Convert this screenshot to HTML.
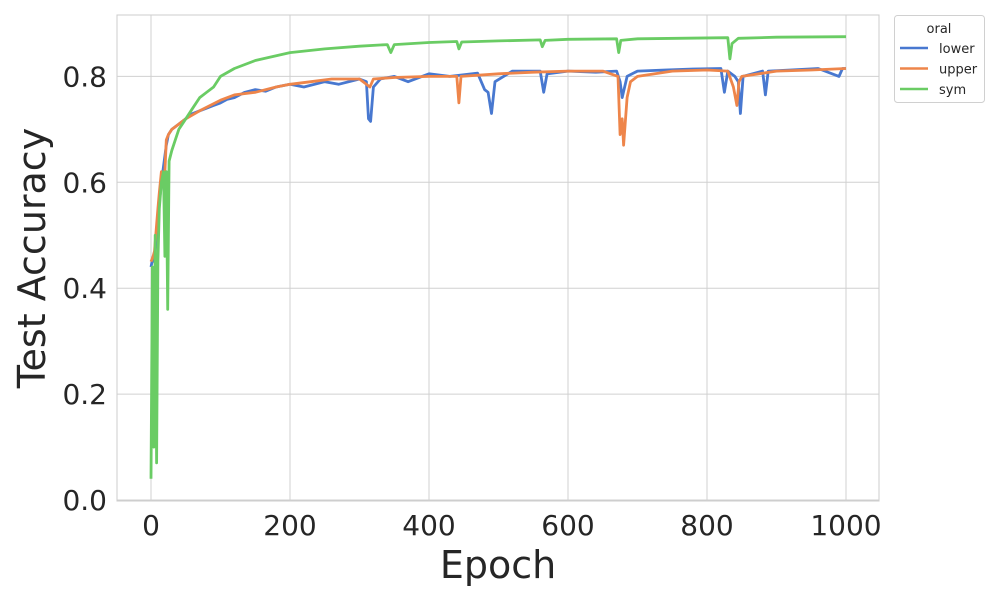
<!DOCTYPE html>
<html><head><meta charset="utf-8"><style>
body{margin:0;background:#fff;font-family:"Liberation Sans","DejaVu Sans",sans-serif}
svg text{font-family:"DejaVu Sans","Liberation Sans",sans-serif;fill:#262626}
</style></head><body>
<svg id="chart" width="1000" height="600" xmlns="http://www.w3.org/2000/svg"></svg>
<script>
const xTicks=[0,200,400,600,800,1000];
const yTicks=[0.0,0.2,0.4,0.6,0.8];
const seriesNames=["lower","upper","sym"];
const lowerEpochs=[0,3,5,8,10,12,15,18,20,22,25,30,40,50,60,70,80,90,100,110,120,135,150,165,180,200,220,250,270,300,310,313,316,320,330,350,370,400,430,470,480,485,490,495,520,560,565,570,600,640,670,675,678,685,700,740,780,820,825,830,840,845,848,852,880,884,888,920,960,990,995,1000];
const lowerVals=[0.44,0.46,0.45,0.5,0.52,0.56,0.6,0.63,0.65,0.67,0.69,0.7,0.71,0.72,0.73,0.735,0.74,0.745,0.75,0.757,0.76,0.77,0.775,0.772,0.78,0.785,0.78,0.79,0.785,0.795,0.79,0.72,0.715,0.78,0.795,0.8,0.79,0.805,0.8,0.806,0.775,0.77,0.73,0.79,0.81,0.81,0.77,0.805,0.81,0.808,0.81,0.79,0.76,0.8,0.81,0.812,0.814,0.815,0.77,0.81,0.8,0.79,0.73,0.8,0.81,0.765,0.81,0.812,0.815,0.8,0.815,0.815];
const upperEpochs=[0,3,5,8,10,12,15,18,20,22,25,30,40,50,70,100,120,150,180,200,230,260,300,310,315,320,350,400,440,443,446,500,550,600,650,672,675,678,680,685,690,700,750,800,830,838,843,846,850,900,950,1000];
const upperVals=[0.45,0.46,0.47,0.52,0.55,0.58,0.62,0.6,0.62,0.68,0.69,0.7,0.71,0.72,0.735,0.755,0.765,0.77,0.78,0.785,0.79,0.795,0.795,0.785,0.78,0.795,0.798,0.8,0.8,0.75,0.8,0.805,0.808,0.81,0.81,0.8,0.69,0.72,0.67,0.76,0.79,0.8,0.81,0.812,0.81,0.78,0.745,0.79,0.8,0.81,0.812,0.815];
const symEpochs=[0,2,4,6,8,10,12,15,18,20,22,24,26,30,35,40,50,60,70,80,90,100,120,150,200,250,300,340,345,350,400,440,443,447,500,560,563,567,600,670,673,676,700,830,833,836,845,900,1000];
const symVals=[0.04,0.44,0.1,0.5,0.07,0.45,0.55,0.6,0.62,0.46,0.62,0.36,0.64,0.66,0.68,0.7,0.72,0.74,0.76,0.77,0.78,0.8,0.815,0.83,0.845,0.852,0.857,0.86,0.845,0.86,0.864,0.866,0.852,0.865,0.867,0.869,0.856,0.868,0.87,0.871,0.845,0.868,0.871,0.873,0.833,0.862,0.872,0.874,0.875];
const colors={lower:"#4878d0",upper:"#ee854a",sym:"#6acc64"};
const NS="http://www.w3.org/2000/svg";
const svg=document.getElementById("chart");
const L=117,R=879,T=15,B=501;
const x=e=>151+(e)*0.695;
const y=v=>500-v*529.5;
function mk(tag,attrs,parent){const el=document.createElementNS(NS,tag);for(const k in attrs)el.setAttribute(k,attrs[k]);(parent||svg).appendChild(el);return el;}
const plot=mk("rect",{x:L,y:T,width:R-L,height:B-T,fill:"#fff",stroke:"#cccccc","stroke-width":1});


xTicks.forEach(t=>{
 const g=mk("line",{x1:x(t),x2:x(t),y1:T,y2:B,stroke:"#d0d0d0","stroke-width":1});
 
 
 const tx=mk("text",{x:x(t),y:535,"font-size":28,"text-anchor":"middle"});tx.textContent=t;
 
 
});
yTicks.forEach(t=>{
 const g=mk("line",{x1:L,x2:R,y1:y(t),y2:y(t),stroke:"#d0d0d0","stroke-width":1});
 
 
 const tx=mk("text",{x:107,y:y(t)+10,"font-size":28,"text-anchor":"end"});tx.textContent=t.toFixed(1);
 
 
});
const data={lower:[lowerEpochs,lowerVals],upper:[upperEpochs,upperVals],sym:[symEpochs,symVals]};
seriesNames.forEach(n=>{
 const [es,vs]=data[n];
 const d=es.map((e,i)=>(i?"L":"M")+x(e).toFixed(1)+","+y(vs[i]).toFixed(1)).join("");
 const p=mk("path",{d:d,fill:"none",stroke:colors[n],"stroke-width":2.8,"stroke-linejoin":"round"});
 
 
});
const xl=mk("text",{x:498,y:578,"font-size":38,"text-anchor":"middle"});xl.textContent="Epoch";


const yl=mk("text",{x:0,y:0,"font-size":38,"text-anchor":"middle",transform:"translate(45,258) rotate(-90)"});yl.textContent="Test Accuracy";


const lg=mk("g",{});


mk("rect",{x:894.5,y:15.5,width:90,height:87,rx:3,fill:"#fff",stroke:"#d0d0d0"},lg);
const lt=mk("text",{x:939,y:33,"font-size":13,"text-anchor":"middle"},lg);lt.textContent="oral";


seriesNames.forEach((n,i)=>{
 const yy=48+i*20.5;
 const ln=mk("line",{x1:900,x2:928,y1:yy,y2:yy,stroke:colors[n],"stroke-width":2.6},lg);
 
 
 const t=mk("text",{x:939,y:yy+5,"font-size":13},lg);t.textContent=n;
 
 
});
</script>
</body></html>
